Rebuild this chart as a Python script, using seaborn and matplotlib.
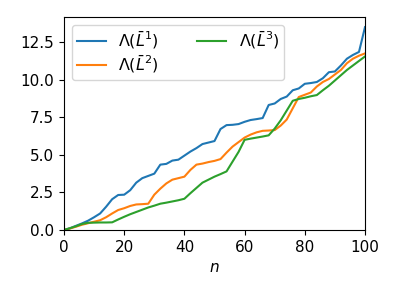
import numpy as np
import pandas as pd
import matplotlib
matplotlib.use('Agg')
import matplotlib.pyplot as plt
import seaborn as sns

n = list(range(0, 101, 2))

lam1 = [0, 0.12, 0.28, 0.44, 0.62, 0.85, 1.1, 1.55, 2.05, 2.33,
        2.35, 2.65, 3.15, 3.45, 3.6, 3.75, 4.35, 4.4, 4.62, 4.68,
        4.95, 5.22, 5.45, 5.72, 5.82, 5.92, 6.72, 6.98, 7.0, 7.05,
        7.2, 7.32, 7.38, 7.45, 8.32, 8.42, 8.72, 8.88, 9.3, 9.42,
        9.73, 9.78, 9.85, 10.1, 10.5, 10.55, 10.95, 11.4, 11.65, 11.85,
        13.5]

lam2 = [0, 0.1, 0.22, 0.35, 0.45, 0.55, 0.65, 0.85, 1.1, 1.33,
        1.45, 1.6, 1.7, 1.72, 1.75, 2.35, 2.75, 3.1, 3.35, 3.45,
        3.55, 4.0, 4.35, 4.42, 4.52, 4.6, 4.72, 5.15, 5.55, 5.85,
        6.15, 6.35, 6.5, 6.6, 6.62, 6.65, 6.95, 7.35, 8.1, 8.85,
        9.0, 9.15, 9.55, 9.85, 10.05, 10.35, 10.65, 11.1, 11.4, 11.6,
        11.75]

lam3 = [0, 0.12, 0.25, 0.4, 0.48, 0.49, 0.5, 0.5, 0.51, 0.7,
        0.88, 1.05, 1.2, 1.35, 1.5, 1.62, 1.75, 1.82, 1.9, 1.98,
        2.08, 2.45, 2.8, 3.15, 3.35, 3.55, 3.72, 3.9, 4.55, 5.2,
        6.0, 6.08, 6.15, 6.22, 6.3, 6.75, 7.3, 7.95, 8.6, 8.72,
        8.8, 8.9, 8.98, 9.3, 9.6, 9.95, 10.3, 10.65, 10.95, 11.25,
        11.55]

labels = [r'$\Lambda(\bar{L}^1)$', r'$\Lambda(\bar{L}^2)$', r'$\Lambda(\bar{L}^3)$']

df = pd.concat([
    pd.DataFrame({'n': n, 'value': lam1, 'series': labels[0]}),
    pd.DataFrame({'n': n, 'value': lam2, 'series': labels[1]}),
    pd.DataFrame({'n': n, 'value': lam3, 'series': labels[2]}),
])

plt.rcParams['font.size'] = 11

fig, ax = plt.subplots(figsize=(3.99, 2.99), dpi=100)
fig.subplots_adjust(left=64/399, right=365/399, bottom=1-230/299, top=1-17/299)

sns.lineplot(data=df, x='n', y='value', hue='series',
             palette=sns.color_palette('tab10', 3), ax=ax)

ax.set_xlim(0, 100)
ax.set_ylim(bottom=0)
ax.set_xlabel(r'$n$')
ax.set_ylabel('')
h, l = ax.get_legend_handles_labels()
ax.legend(h, l, ncol=2, loc='upper left', labelspacing=0.18,
          borderpad=0.3, handlelength=1.8, columnspacing=2.4,
          prop={'size': 11.5})

fig.savefig('out.png', dpi=100)
